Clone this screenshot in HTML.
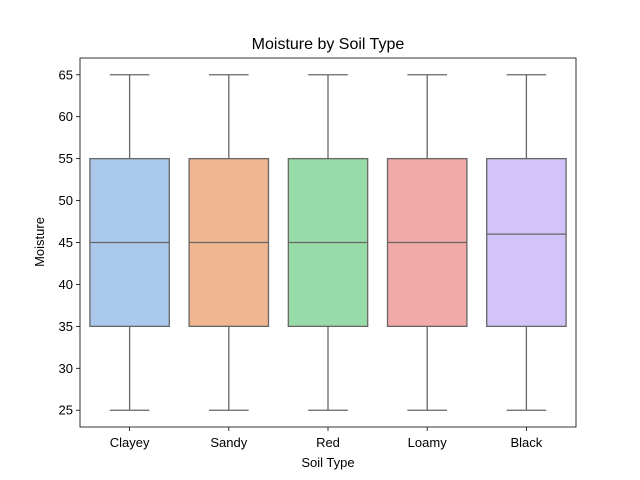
<!DOCTYPE html>
<html><head><meta charset="utf-8"><style>body{margin:0;background:#fff}svg{display:block;font-family:"Liberation Sans","DejaVu Sans",sans-serif}</style></head>
<body>
<svg id="chart" width="640" height="480">
<rect x="0" y="0" width="640" height="480" fill="#fff"/>
<text x="328" y="49" text-anchor="middle" font-size="16">Moisture by Soil Type</text>
<g id="marks"></g>
<rect x="80" y="58" width="496" height="369" fill="none" stroke="#000" stroke-width="0.8"/>
<g id="axes"></g>
<text x="328" y="467" text-anchor="middle" font-size="13">Soil Type</text>
<text transform="translate(44,242) rotate(-90)" text-anchor="middle" font-size="13">Moisture</text>
</svg>
<script>
const categories = ["Clayey","Sandy","Red","Loamy","Black"];
const mins = [25,25,25,25,25];
const q1s = [35,35,35,35,35];
const medians = [45,45,45,45,46];
const q3s = [55,55,55,55,55];
const maxs = [65,65,65,65,65];
const yTicks = [25,30,35,40,45,50,55,60,65];
const colors = ["#abc9ed","#f0b690","#97dba9","#f2aaa8","#d2c4f8"];
const NS="http://www.w3.org/2000/svg";
const L=80,R=576,T=58,B=427,yMin=23,yMax=67;
const y=v=>B-(v-yMin)/(yMax-yMin)*(B-T);
const x=i=>L+(i+0.5)*(R-L)/categories.length;
const bw=0.8*(R-L)/categories.length;
function mk(tag,attrs,parent){const e=document.createElementNS(NS,tag);for(const k in attrs)e.setAttribute(k,attrs[k]);parent.appendChild(e);return e;}
const marks=document.getElementById('marks'),axes=document.getElementById('axes');
const lc="#666666";
categories.forEach((c,i)=>{
  const g=mk('g',{},marks);
  
  
  const cx=x(i);
  mk('line',{x1:cx,x2:cx,y1:y(q3s[i]),y2:y(maxs[i]),stroke:lc,'stroke-width':1.3},g);
  mk('line',{x1:cx,x2:cx,y1:y(q1s[i]),y2:y(mins[i]),stroke:lc,'stroke-width':1.3},g);
  mk('line',{x1:cx-bw/4,x2:cx+bw/4,y1:y(maxs[i]),y2:y(maxs[i]),stroke:lc,'stroke-width':1.3},g);
  mk('line',{x1:cx-bw/4,x2:cx+bw/4,y1:y(mins[i]),y2:y(mins[i]),stroke:lc,'stroke-width':1.3},g);
  mk('rect',{x:cx-bw/2,y:y(q3s[i]),width:bw,height:y(q1s[i])-y(q3s[i]),fill:colors[i],stroke:lc,'stroke-width':1.3},g);
  mk('line',{x1:cx-bw/2,x2:cx+bw/2,y1:y(medians[i]),y2:y(medians[i]),stroke:lc,'stroke-width':1.3},g);
  mk('line',{x1:cx,x2:cx,y1:B,y2:B+4,stroke:'#000','stroke-width':0.8},axes);
  const t=mk('text',{x:cx,y:B+20,'text-anchor':'middle','font-size':13},axes);
  t.textContent=c;
  
  
});
yTicks.forEach(v=>{
  mk('line',{x1:L-4,x2:L,y1:y(v),y2:y(v),stroke:'#000','stroke-width':0.8},axes);
  const t=mk('text',{x:L-7,y:y(v)+4.5,'text-anchor':'end','font-size':13},axes);
  t.textContent=v;
  
  
});
</script>
</body></html>
